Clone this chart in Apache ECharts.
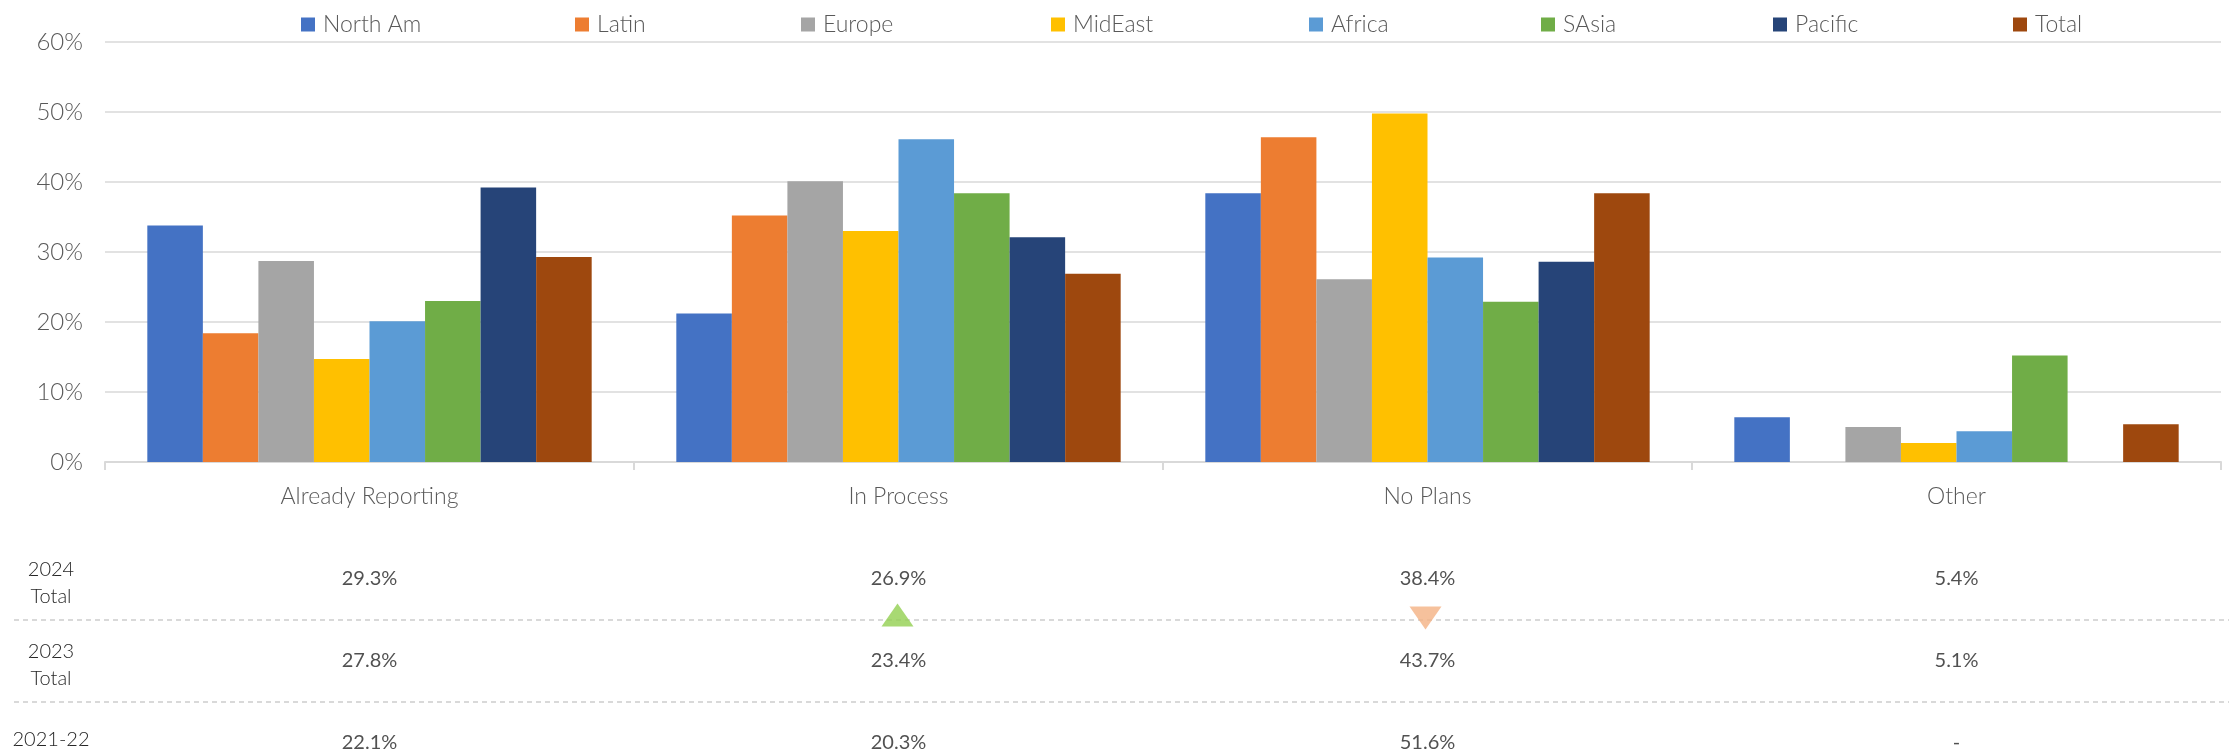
<!DOCTYPE html>
<html>
<head>
<meta charset="utf-8">
<script src="https://cdn.jsdelivr.net/npm/echarts@6/dist/echarts.min.js"></script>
<style>
  html, body { margin: 0; padding: 0; background: #fff; }
  #chart { width: 2229px; height: 756px; }
</style>
</head>
<body>
<div id="chart"></div>
<script>
// categories on the x axis
var categories = ["Already Reporting", "In Process", "No Plans", "Other"];

// regional shares (%) per category
var northAm = [33.8, 21.2, 38.4, 6.4];
var latin   = [18.4, 35.2, 46.4, 0];
var europe  = [28.7, 40.1, 26.1, 5.0];
var midEast = [14.7, 33.0, 49.8, 2.7];
var africa  = [20.1, 46.1, 29.2, 4.4];
var sAsia   = [23.0, 38.4, 22.9, 15.2];
var pacific = [39.2, 32.1, 28.6, 0];
var total   = [29.3, 26.9, 38.4, 5.4];

var seriesNames = ["North Am", "Latin", "Europe", "MidEast", "Africa", "SAsia", "Pacific", "Total"];
var seriesValues = [northAm, latin, europe, midEast, africa, sAsia, pacific, total];

// y axis ticks
var yTicks = [0, 10, 20, 30, 40, 50, 60];

// comparison table under the chart
var rowLabels = ["2024\nTotal", "2023\nTotal", "2021-22"];
var total2024 = [29.3, 26.9, 38.4, 5.4];
var total2023 = [27.8, 23.4, 43.7, 5.1];
var total2122 = [22.1, 20.3, 51.6, null];
var trendMarks = ["", "up", "down", ""];

var colors = ["#4472c4", "#ed7d31", "#a5a5a5", "#ffc000", "#5b9bd5", "#70ad47", "#264478", "#9e480e"];
var legendLeft = [296, 570, 796, 1046, 1304, 1536, 1768, 2008];

var W = 2229;
var gridLeft = 105, gridRight = 8;
var tableLeft = 14, tableRight = 0;
var catW = (W - gridLeft - gridRight) / categories.length;
var font = "Lato, 'Open Sans', sans-serif";

var myChart = echarts.init(document.getElementById("chart"));

var tableRows = [total2024, total2023, total2122];
var tableCells = [];
tableRows.forEach(function(row, r) {
  row.forEach(function(v, c) {
    tableCells.push([c, r, v]);
  });
});

var trendData = [];
trendMarks.forEach(function(t, c) {
  if (t === "up") {
    trendData.push({ value: [c, 0], symbolRotate: 0, symbolOffset: [-1, 36], itemStyle: { color: "#92d050" } });
  } else if (t === "down") {
    trendData.push({ value: [c, 0], symbolRotate: 180, symbolOffset: [-2, 39], itemStyle: { color: "#f4b183" } });
  }
});

var barSeries = seriesNames.map(function(name, i) {
  return {
    name: name,
    type: "bar",
    data: seriesValues[i],
    barGap: "0%",
    barCategoryGap: "16%",
    itemStyle: { color: colors[i] },
    xAxisIndex: 0,
    yAxisIndex: 0
  };
});

var rowText = { fontFamily: font, fontSize: 20, lineHeight: 27, color: "#262626", fontWeight: 300 };

var option = {
  animation: false,
  textStyle: { fontFamily: font },
  legend: seriesNames.map(function(name, i) {
    return {
      data: [name],
      left: legendLeft[i],
      top: 8,
      itemWidth: 14,
      itemHeight: 14,
      itemGap: 0,
      icon: "rect",
      textStyle: { color: "#595959", fontSize: 23, fontWeight: 300, fontFamily: font, padding: [0, 0, 0, 3] }
    };
  }),
  grid: [
    { left: gridLeft, right: gridRight, top: 42, bottom: 294, outerBoundsMode: "none" },
    { left: tableLeft, right: tableRight, top: 538, bottom: -28, outerBoundsMode: "none" }
  ],
  xAxis: [
    {
      type: "category",
      gridIndex: 0,
      data: categories,
      axisLine: { lineStyle: { color: "#d9d9d9", width: 2 } },
      axisTick: { show: true, length: 8, lineStyle: { color: "#d9d9d9", width: 2 } },
      axisLabel: { color: "#595959", fontSize: 23, fontWeight: 300, margin: 23 }
    },
    {
      type: "value",
      gridIndex: 1,
      min: -0.5 - (gridLeft - tableLeft) / catW,
      max: categories.length - 0.5 + (gridRight - tableRight) / catW,
      show: false
    }
  ],
  yAxis: [
    {
      type: "value",
      gridIndex: 0,
      min: yTicks[0],
      max: yTicks[yTicks.length - 1],
      interval: yTicks[1] - yTicks[0],
      axisLine: { show: false },
      axisTick: { show: false },
      splitLine: { lineStyle: { color: "#d9d9d9", width: 1.5 } },
      axisLabel: { color: "#595959", fontSize: 24, fontWeight: 300, margin: 22, formatter: "{value}%" }
    },
    {
      type: "category",
      gridIndex: 1,
      data: rowLabels,
      inverse: true,
      axisLine: { show: false },
      axisTick: { show: false },
      splitLine: {
        show: true,
        showMinLine: false,
        showMaxLine: false,
        lineStyle: { color: "#d9d9d9", width: 2, type: [5, 4] }
      },
      axisLabel: {
        inside: true,
        margin: 37,
        align: "center",
        color: "#262626",
        fontFamily: font,
        fontWeight: 300,
        fontSize: 20,
        lineHeight: 27,
        formatter: function(v) {
          return v.indexOf("\n") >= 0 ? "{two|" + v.replace("\n", "}\n{two|") + "}" : "{one|" + v + "}";
        },
        rich: {
          two: Object.assign({ padding: [8, 0, 0, 0] }, rowText),
          one: Object.assign({ padding: [0, 0, 6, 0] }, rowText)
        }
      }
    }
  ],
  series: barSeries.concat([
    {
      type: "scatter",
      xAxisIndex: 1,
      yAxisIndex: 1,
      data: tableCells,
      symbolSize: 1,
      itemStyle: { color: "rgba(0,0,0,0)" },
      label: {
        show: true,
        position: "inside",
        color: "#262626",
        fontFamily: font,
        fontSize: 20,
        formatter: function(p) {
          return p.value[2] == null ? "-" : p.value[2].toFixed(1) + "%";
        }
      },
      silent: true
    },
    {
      type: "scatter",
      xAxisIndex: 1,
      yAxisIndex: 1,
      symbol: "triangle",
      symbolSize: [32, 23],
      data: trendData,
      silent: true
    }
  ])
};

myChart.setOption(option);
</script>
</body>
</html>
